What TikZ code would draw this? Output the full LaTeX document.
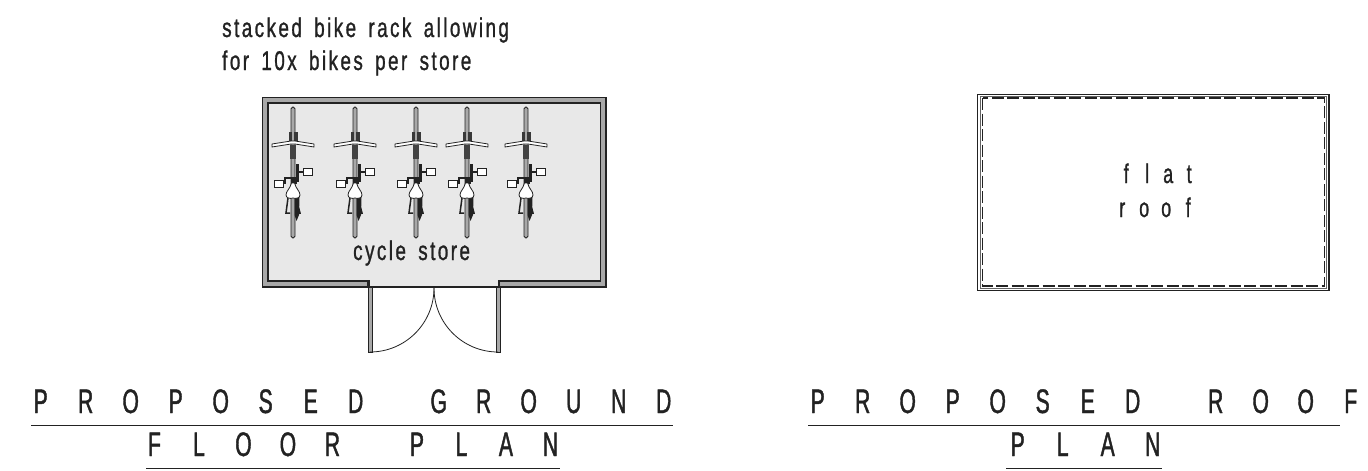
\documentclass[tikz,border=0pt]{standalone}
\usepackage{fontspec}
\setmainfont{Liberation Sans}
\newfontfamily\titlefont[FakeStretch=0.62,FakeBold=1.2]{Liberation Sans}
\newfontfamily\notefont[FakeStretch=0.70,FakeBold=1,LetterSpace=9,WordSpace=1.6]{Liberation Sans}
\newfontfamily\plainnote[FakeStretch=0.66,FakeBold=1]{Liberation Sans}
\definecolor{ink}{HTML}{222222}
\definecolor{wallgrey}{HTML}{A8A8A8}
\definecolor{roomgrey}{HTML}{E8E8E8}
% fixed-pitch lettering: each letter in a box of width \pitchw, ~ is a word gap
\newlength\pitchw
\newlength\gapw
\def\ploop#1{\ifx#1\relax\else\ifx#1~\hspace{\gapw}\else\makebox[\pitchw][c]{#1}\fi\expandafter\ploop\fi}
\newcommand\pitched[3]{\pitchw=#1pt\gapw=#2pt\ploop#3\relax}
\tikzset{
  titletext/.style={anchor=base west,inner sep=0pt,text=ink,font=\titlefont\fontsize{34}{34}\selectfont},
  notetext/.style={anchor=base west,inner sep=0pt,text=ink,font=\notefont\fontsize{27}{27}\selectfont},
  rooftext/.style={anchor=base west,inner sep=0pt,text=ink,font=\plainnote\fontsize{27}{27}\selectfont},
  rule/.style={draw=ink,line width=1.4pt},
  wallline/.style={draw=ink,line width=1.2pt},
  thin/.style={draw=ink,line width=0.8pt},
  bike/.pic={
    % wheel (local origin: wheel centre line, top of wheel)
    \draw[thin,fill=wallgrey,rounded corners=1.8pt] (-2,0) rectangle (2,131);
    % stem and frame
    \fill[ink!90] (-4.5,25) rectangle (-1,34);
    \fill[ink!90] (1,25) rectangle (4.5,34);
    \fill[ink!85] (-3,38) rectangle (3,52);
    % handlebar
    \draw[thin,fill=white,line join=round] (-21,37) -- (-2,34) -- (2,34) -- (21,37) -- (21,40) -- (2,37) -- (-2,37) -- (-21,40) -- cycle;
    % cranks
    \draw[ink,line width=1.4pt] (-10,76) -- (-8,76) -- (-8,71) -- (5,71) -- (5,65) -- (10,65);
    \fill[ink] (3,57) rectangle (5.5,75);
    \fill[ink] (-2,70) rectangle (4,77);
    % pedals
    \draw[thin,fill=white] (-19,73) rectangle (-10,80);
    \draw[thin,fill=white] (10,61) rectangle (19,68);
    % rear stays and mudguard
    \draw[ink,line width=1.5pt] (-5,91) -- (-7,106) -- (-3,106) (3,91) -- (7,106) -- (4,106);
    \fill[ink] (1.5,90) -- (6.5,90) -- (6,108) -- (3.5,114) -- (1.5,108) -- cycle;
    % saddle
    \draw[thin,fill=white,line join=round] (-1.5,76) .. controls (-3,82) and (-7,84) .. (-7,88)
       .. controls (-7,91) and (-3,92) .. (0,91) .. controls (3,92) and (7,91) .. (7,88)
       .. controls (7,84) and (3,82) .. (1.5,76) -- cycle;
  }
}
\begin{document}
\begin{tikzpicture}[x=1pt,y=-1pt]
\useasboundingbox (0,0) rectangle (1368,471);
% ---- ground floor plan
\filldraw[wallline,fill=wallgrey] (368,287) -- (262.5,287) -- (262.5,97.5) -- (606,97.5) -- (606,287) -- (499,287) -- (499,281) -- (600.5,281) -- (600.5,103) -- (268,103) -- (268,281) -- (368,281) -- cycle;
\fill[roomgrey] (268.6,103.6) rectangle (599.9,280.4);
\fill[roomgrey] (368.6,280) rectangle (498.4,286.4);
\draw[wallline] (368,287) -- (499,287);
\fill[ink] (367,280) rectangle (369.5,287);
\fill[ink] (497.5,280) rectangle (500,287);
\foreach \bx/\bn in {293/a,355/b,416/c,467/d,526/e}
  \pic (bike\bn) at (\bx,107) {bike};
% doors
\draw[thin,fill=wallgrey] (368,287) rectangle (372,352);
\draw[thin,fill=wallgrey] (496,287) rectangle (500,352);
\draw[thin] (370,352) arc[start angle=90,end angle=0,radius=64];
\draw[thin] (498,352) arc[start angle=90,end angle=180,radius=64];
% ---- roof plan
\draw[draw=ink,line width=1.1pt] (977.8,94.2) rectangle (1329,290.5);
\draw[draw=ink!70,line width=.8pt] (980.3,96.7) rectangle (1326.5,288);
\draw[ink,line width=1.1pt,dash pattern=on 12pt off 3.5pt] (982.5,98) rectangle (1324.3,286);
% ---- labels
\node[notetext] (noteA) at (222,37) {stacked bike rack allowing};
\node[notetext] (noteB) at (222,70) {for 10x bikes per store};
\node[notetext] (store) at (353,260) {cycle store};
\node[rooftext] (roofA) at (1115.5,183) {\pitched{21}{0}{flat}};
\node[rooftext] (roofB) at (1111,217) {\pitched{22}{0}{roof}};
\node[titletext] (t1) at (18,413) {\pitched{45}{38}{PROPOSED~GROUND}};
\draw[rule] (31,425.5) -- (673,425.5);
\node[titletext] (t2) at (132,456) {\pitched{44.5}{40}{FLOOR~PLAN}};
\draw[rule] (146,468.5) -- (560,468.5);
\node[titletext] (t3) at (795,413) {\pitched{45}{38}{PROPOSED~ROOF}};
\draw[rule] (808,425.5) -- (1340,425.5);
\node[titletext] (t4) at (995,456) {\pitched{45}{0}{PLAN}};
\draw[rule] (1006,468.5) -- (1162,468.5);
\end{tikzpicture}
\end{document}
